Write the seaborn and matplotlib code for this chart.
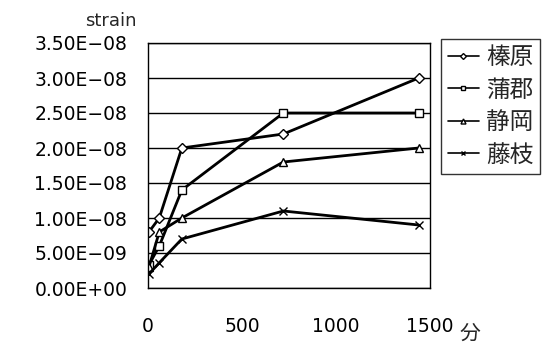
import numpy as np
import pandas as pd
import matplotlib
matplotlib.use("Agg")
import matplotlib.pyplot as plt
from matplotlib.ticker import FuncFormatter, MultipleLocator
import seaborn as sns

# elapsed time (minutes) and strain per site
minutes = [5, 60, 180, 720, 1440]
haibara = [8.0e-9, 1.0e-8, 2.0e-8, 2.2e-8, 3.0e-8]
gamagori = [3.3e-9, 6.0e-9, 1.4e-8, 2.5e-8, 2.5e-8]
shizuoka = [3.0e-9, 8.0e-9, 1.0e-8, 1.8e-8, 2.0e-8]
fujieda = [2.0e-9, 3.6e-9, 7.0e-9, 1.1e-8, 9.0e-9]
sites = ["榛原", "蒲郡", "静岡", "藤枝"]
marker_map = {"榛原": "D", "蒲郡": "s", "静岡": "^", "藤枝": "x"}
marker_size = {"榛原": 5, "蒲郡": 6, "静岡": 6, "藤枝": 6}

sns.set_style("white")
plt.rcParams['font.family'] = ['DejaVu Sans', 'Noto Sans CJK JP']

rows = []
for site, vals in zip(sites, [haibara, gamagori, shizuoka, fujieda]):
    for t, v in zip(minutes, vals):
        rows.append({"min": t, "strain": v, "site": site})
df = pd.DataFrame(rows)

fig = plt.figure(figsize=(5.6, 3.6), dpi=100)
ax = fig.add_axes([148 / 560, 1 - 288 / 360, 282 / 560, 245 / 360])

for site in sites:
    sub = df[df["site"] == site]
    sns.lineplot(data=sub, x="min", y="strain", ax=ax, color="black", lw=2,
                 marker=marker_map[site], markersize=marker_size[site],
                 markerfacecolor="white", markeredgecolor="black",
                 markeredgewidth=1, label=site, legend=False)

ax.set_xlim(0, 1500)
ax.set_ylim(0, 3.5e-8)
ax.yaxis.set_major_locator(MultipleLocator(5e-9))
ax.xaxis.set_major_locator(MultipleLocator(500))
ax.grid(axis="y", color="black", lw=1)
ax.grid(axis="x", visible=False)
for s in ax.spines.values():
    s.set_color("black")
    s.set_linewidth(1)


def sci(v, pos):
    s = f"{v:.2E}"
    return s.replace("-", "\u2212")


ax.yaxis.set_major_formatter(FuncFormatter(sci))
ax.tick_params(axis="y", length=0, pad=15, labelsize=13.5, colors="black")
ax.tick_params(axis="x", direction="in", length=7, width=1, pad=21,
               labelsize=13.5, colors="black")
ax.set_xlabel("")
ax.set_ylabel("")

fig.text(111 / 560, 1 - 21 / 360, "strain", fontsize=13, ha="center", va="center")
fig.text(470 / 560, 1 - 334 / 360, "分", family="Noto Sans CJK JP",
         fontsize=15, ha="center", va="center")

handles, labels = ax.get_legend_handles_labels()
leg = fig.legend(handles, labels, loc="upper left",
                 bbox_to_anchor=(441 / 560, 1 - 39 / 360),
                 prop={"family": "Noto Sans CJK JP", "size": 17},
                 frameon=True, fancybox=False, handlelength=1.3,
                 handletextpad=0.3, borderpad=0.3, labelspacing=0.4,
                 borderaxespad=0, markerscale=0.6)
leg.get_frame().set_edgecolor("black")
leg.get_frame().set_linewidth(1)
for h in leg.legend_handles:
    h.set_linewidth(1.2)

fig.savefig("out.png", dpi=100)
